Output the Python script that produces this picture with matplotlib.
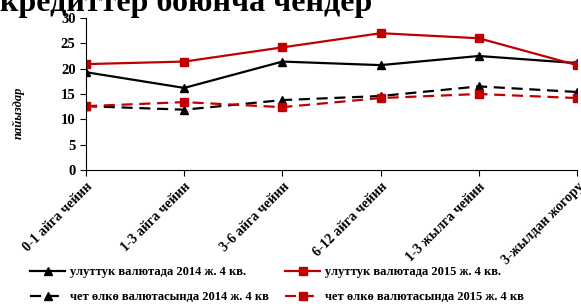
import matplotlib
matplotlib.use("Agg")
import matplotlib.pyplot as plt
import numpy as np

plt.rcParams['font.family'] = ['Liberation Serif', 'DejaVu Serif']
plt.rcParams['font.weight'] = 'bold'

categories = ["0-1 айга чейин", "1-3 айга чейин", "3-6 айга чейин",
              "6-12 айга чейин", "1-3 жылга чейин", "3-жылдан жогору"]
nat_2014 = [19.3, 16.2, 21.4, 20.7, 22.5, 21.1]
nat_2015 = [20.9, 21.4, 24.2, 27.0, 26.0, 20.7]
for_2014 = [12.6, 11.9, 13.8, 14.6, 16.5, 15.4]
for_2015 = [12.6, 13.4, 12.4, 14.2, 15.0, 14.2]
labels = ["улуттук валютада 2014 ж. 4 кв.", "улуттук валютада 2015 ж. 4 кв.",
          "чет өлкө валютасында 2014 ж. 4 кв", "чет өлкө валютасында 2015 ж. 4 кв"]
title = "кредиттер боюнча чендер"

red = "#C00000"
fig = plt.figure(figsize=(5.81, 3.07), dpi=100)
ax = fig.add_axes([86/581, 1-170/307, (577-86)/581, (170-18)/307])
x = np.arange(len(categories))

l1, = ax.plot(x, nat_2014, color="black", lw=1.6, marker="^", ms=6)
l2, = ax.plot(x, nat_2015, color=red, lw=1.6, marker="s", ms=6)
l3, = ax.plot(x, for_2014, color="black", lw=1.6, ls=(0, (5, 3)), marker="^", ms=6)
l4, = ax.plot(x, for_2015, color=red, lw=1.6, ls=(0, (5, 3)), marker="s", ms=6)

ax.set_xlim(0, 5)
ax.set_ylim(0, 30)
ax.set_yticks(range(0, 31, 5))
ax.set_xticks(x)
ax.set_xticklabels(categories, rotation=45, ha="right", rotation_mode="anchor", fontsize=10)
ax.tick_params(axis="y", labelsize=10.5, length=4, direction="out")
ax.tick_params(axis="x", length=4, direction="out")
ax.spines["top"].set_visible(False)
ax.spines["right"].set_visible(False)
ax.set_ylabel("пайыздар", fontstyle="italic", fontweight="bold", fontsize=9)
ax.yaxis.set_label_coords(-0.125, 0.375)

# title is partly cut off at the top, as in the source image
fig.text(0.0, 1-11.5/307, title, fontsize=23, fontweight="bold", va="baseline", ha="left")

# column-wise fill: order so rows read national / foreign
fig.legend([l1, l3, l2, l4], [labels[0], labels[2], labels[1], labels[3]],
           loc="upper left", bbox_to_anchor=(30/581, 1-266/307),
           ncol=2, frameon=False, fontsize=9, handlelength=2.8, columnspacing=1.3,
           handletextpad=0.4, labelspacing=1.05, borderpad=0, borderaxespad=0)

fig.savefig("out.png", dpi=100)
